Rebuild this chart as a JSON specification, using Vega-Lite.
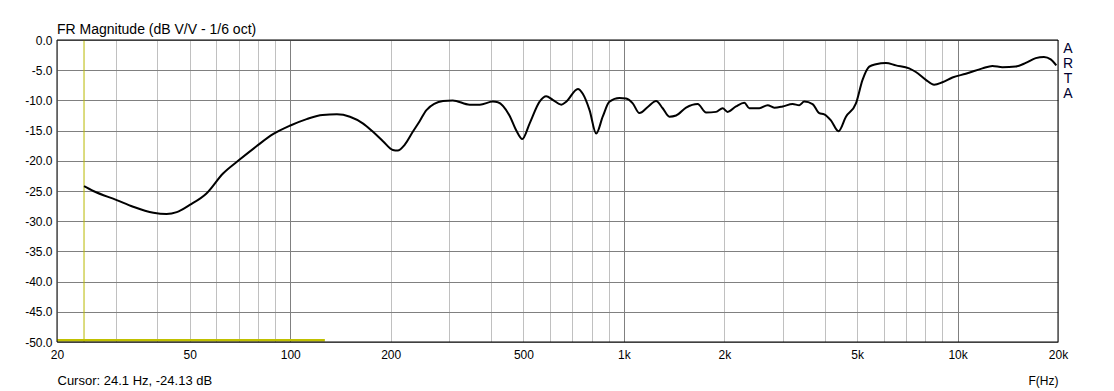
{
  "$schema": "https://vega.github.io/schema/vega-lite/v6.json",
  "width": 1001,
  "height": 302,
  "autosize": {"type": "none"},
  "padding": {"left": 57, "top": 40, "right": 56, "bottom": 49},
  "background": "white",
  "title": {
    "text": "FR Magnitude (dB V/V - 1/6 oct)",
    "anchor": "start",
    "frame": "group",
    "orient": "top",
    "offset": -3,
    "font": "Liberation Sans",
    "fontSize": 14,
    "fontWeight": "normal",
    "color": "black"
  },
  "config": {
    "view": {"stroke": null},
    "font": "Liberation Sans"
  },
  "datasets": {
    "curve": [
      {"f": 24.1, "db": -24.2}, {"f": 25.7, "db": -25.0}, {"f": 30.2, "db": -26.5}, {"f": 33.8, "db": -27.6},
      {"f": 38.9, "db": -28.6}, {"f": 42.6, "db": -28.8}, {"f": 45.7, "db": -28.5}, {"f": 50.0, "db": -27.3},
      {"f": 56.1, "db": -25.4}, {"f": 62.9, "db": -22.1}, {"f": 69.8, "db": -20.0}, {"f": 79.2, "db": -17.6},
      {"f": 88.8, "db": -15.6}, {"f": 99.7, "db": -14.2}, {"f": 112, "db": -13.1}, {"f": 125, "db": -12.4},
      {"f": 138, "db": -12.3}, {"f": 151, "db": -12.7}, {"f": 165, "db": -13.8}, {"f": 177, "db": -15.2},
      {"f": 190, "db": -16.8}, {"f": 203, "db": -18.2}, {"f": 210, "db": -18.3}, {"f": 220, "db": -17.4},
      {"f": 233, "db": -15.2}, {"f": 244, "db": -13.5}, {"f": 256, "db": -11.6}, {"f": 287, "db": -10.1},
      {"f": 307, "db": -10.0}, {"f": 345, "db": -10.7}, {"f": 370, "db": -10.7}, {"f": 405, "db": -10.2},
      {"f": 419, "db": -10.3}, {"f": 454, "db": -12.5}, {"f": 476, "db": -15.0}, {"f": 496, "db": -16.4},
      {"f": 522, "db": -13.8}, {"f": 559, "db": -10.2}, {"f": 585, "db": -9.3}, {"f": 612, "db": -9.9},
      {"f": 649, "db": -10.7}, {"f": 672, "db": -10.2}, {"f": 728, "db": -8.1}, {"f": 753, "db": -8.9},
      {"f": 789, "db": -11.6}, {"f": 826, "db": -15.5}, {"f": 864, "db": -12.7}, {"f": 905, "db": -10.2},
      {"f": 970, "db": -9.6}, {"f": 1015, "db": -9.7}, {"f": 1063, "db": -10.5}, {"f": 1113, "db": -12.1},
      {"f": 1179, "db": -11.1}, {"f": 1249, "db": -10.1}, {"f": 1307, "db": -11.3}, {"f": 1369, "db": -12.7},
      {"f": 1434, "db": -12.5}, {"f": 1536, "db": -11.2}, {"f": 1664, "db": -10.6}, {"f": 1763, "db": -12.0},
      {"f": 1889, "db": -11.9}, {"f": 1977, "db": -11.3}, {"f": 2046, "db": -11.9}, {"f": 2168, "db": -11.0},
      {"f": 2296, "db": -10.4}, {"f": 2377, "db": -11.3}, {"f": 2547, "db": -11.3}, {"f": 2697, "db": -10.8},
      {"f": 2824, "db": -11.2}, {"f": 2990, "db": -11.0}, {"f": 3204, "db": -10.6}, {"f": 3355, "db": -10.8},
      {"f": 3472, "db": -10.2}, {"f": 3676, "db": -10.6}, {"f": 3850, "db": -12.1}, {"f": 3985, "db": -12.3},
      {"f": 4173, "db": -13.3}, {"f": 4398, "db": -15.1}, {"f": 4629, "db": -12.7}, {"f": 4960, "db": -10.5},
      {"f": 5191, "db": -6.6}, {"f": 5436, "db": -4.4}, {"f": 5693, "db": -4.0}, {"f": 6099, "db": -3.8},
      {"f": 6535, "db": -4.2}, {"f": 7159, "db": -4.7}, {"f": 7499, "db": -5.3}, {"f": 8036, "db": -6.6},
      {"f": 8509, "db": -7.4}, {"f": 9010, "db": -7.0}, {"f": 9652, "db": -6.2}, {"f": 10586, "db": -5.6},
      {"f": 11868, "db": -4.7}, {"f": 12717, "db": -4.3}, {"f": 13626, "db": -4.5}, {"f": 14941, "db": -4.4},
      {"f": 16008, "db": -3.8}, {"f": 17152, "db": -3.0}, {"f": 18158, "db": -2.8}, {"f": 19020, "db": -3.2},
      {"f": 19766, "db": -4.2}
    ],
    "cursor": [{"f": 24.1}],
    "band": [{"f": 20, "f2": 127, "db": -49.7}],
    "frame": [{"f": 20, "f2": 20000, "db": 0, "db2": -50}],
    "brand": [{"f": 20000, "db": 0, "label": "A\nR\nT\nA"}]
  },
  "layer": [
    {
      "data": {"name": "curve"},
      "mark": {"type": "line", "opacity": 0},
      "encoding": {
        "x": {
          "field": "f", "type": "quantitative",
          "scale": {"type": "log", "domain": [20, 20000], "nice": false},
          "axis": {
            "values": [20, 30, 40, 50, 60, 70, 80, 90, 100, 200, 300, 400, 500, 600, 700, 800, 900, 1000, 2000, 3000, 4000, 5000, 6000, 7000, 8000, 9000, 10000, 20000],
            "tickCount": 40,
            "labelExpr": "indexof([20,50,100,200,500,1000,2000,5000,10000,20000], datum.value) >= 0 ? (datum.value >= 1000 ? (datum.value/1000) + 'k' : datum.value + '') : ''",
            "grid": true,
            "gridColor": {"condition": {"test": "datum.value == 100 || datum.value == 1000 || datum.value == 10000", "value": "#808080"}, "value": "#c0c0c0"},
            "gridWidth": 1,
            "domain": false,
            "ticks": false,
            "labelFlush": false,
            "labelOverlap": false,
            "labelBound": false,
            "labelPadding": 7,
            "labelFont": "Liberation Sans",
            "labelFontSize": 12,
            "labelColor": "black",
            "title": "F(Hz)",
            "titleFont": "Liberation Sans",
            "titleFontSize": 12,
            "titleFontWeight": "normal",
            "titleColor": "black",
            "titleAnchor": "end",
            "titleAlign": "right",
            "titleBaseline": "alphabetic",
            "titleX": 1001,
            "titleY": 42
          }
        },
        "y": {
          "field": "db", "type": "quantitative",
          "scale": {"domain": [-50, 0], "nice": false, "zero": false},
          "axis": {
            "values": [-50, -45, -40, -35, -30, -25, -20, -15, -10, -5, 0],
            "tickCount": 20,
            "labelExpr": "datum.value + '.0'",
            "labelOverlap": false,
            "labelBound": false,
            "grid": true,
            "gridColor": "#808080",
            "gridWidth": 1,
            "domain": false,
            "ticks": false,
            "labelPadding": 5,
            "labelFont": "Liberation Sans",
            "labelFontSize": 12,
            "labelColor": "black",
            "title": "Cursor: 24.1 Hz, -24.13 dB",
            "titleFont": "Liberation Sans",
            "titleFontSize": 13,
            "titleFontWeight": "normal",
            "titleColor": "black",
            "titleAngle": 0,
            "titleAlign": "left",
            "titleBaseline": "alphabetic",
            "titleX": 0,
            "titleY": 344
          }
        }
      }
    },
    {
      "data": {"name": "cursor"},
      "mark": {"type": "rule", "color": "#b8b800", "strokeWidth": 1},
      "encoding": {"x": {"field": "f", "type": "quantitative"}}
    },
    {
      "data": {"name": "band"},
      "mark": {"type": "rule", "color": "#c0c000", "strokeWidth": 2.5},
      "encoding": {
        "x": {"field": "f", "type": "quantitative"},
        "x2": {"field": "f2"},
        "y": {"field": "db", "type": "quantitative"}
      }
    },
    {
      "data": {"name": "curve"},
      "mark": {"type": "line", "color": "black", "strokeWidth": 2, "interpolate": "monotone"},
      "encoding": {
        "x": {"field": "f", "type": "quantitative"},
        "y": {"field": "db", "type": "quantitative"}
      }
    },
    {
      "data": {"name": "frame"},
      "mark": {"type": "rect", "fill": null, "fillOpacity": 0, "stroke": "black", "strokeWidth": 1},
      "encoding": {
        "x": {"field": "f", "type": "quantitative"},
        "x2": {"field": "f2"},
        "y": {"field": "db", "type": "quantitative"},
        "y2": {"field": "db2"}
      }
    },
    {
      "data": {"name": "brand"},
      "mark": {"type": "text", "lineBreak": "\n", "lineHeight": 15, "fontSize": 14, "font": "Liberation Sans", "color": "#000030", "align": "center", "baseline": "top", "dx": 10, "dy": 2},
      "encoding": {
        "x": {"field": "f", "type": "quantitative"},
        "y": {"field": "db", "type": "quantitative"},
        "text": {"field": "label"}
      }
    }
  ]
}
